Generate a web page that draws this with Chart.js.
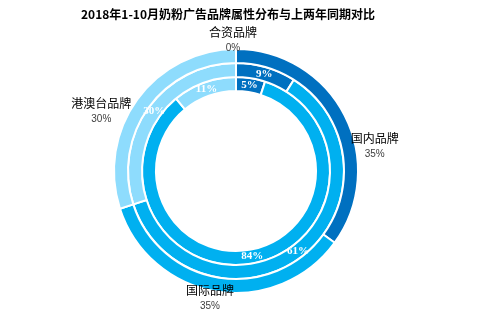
<!DOCTYPE html>
<html>
<head>
<meta charset="utf-8">
<script src="https://cdn.jsdelivr.net/npm/chart.js@4"></script>
<style>
  html, body { margin: 0; padding: 0; background: #fff; }
  #wrap { width: 501px; height: 323px; }
</style>
</head>
<body>
<div id="wrap"><canvas id="brandChart" width="501" height="323"></canvas></div>
<script>
const titleText = "2018年1-10月奶粉广告品牌属性分布与上两年同期对比";
const categories = ["国内品牌", "国际品牌", "港澳台品牌", "合资品牌"];
const colors = ["#0070C0", "#00B0F0", "#8EDCFD", "#BFBFBF"];
// outer ring = 2018, then the two earlier years going inward
const ring2018 = [35, 35, 30, 0];
const ringMid = [9, 61, 30, 0];
const ringInner = [5, 84, 11, 0];
// nudges for the outside category labels (dx, dy from the arc's outer mid point)
const labelNudge = [[30, 31], [-7, 7], [-36, 12], [-3, -9]];

const labelPlugin = {
  id: "ringLabels",
  afterDatasetsDraw(chart) {
    const ctx = chart.ctx;
    ctx.save();
    ctx.textAlign = "center";
    ctx.textBaseline = "middle";

    // title
    ctx.fillStyle = "#000";
    ctx.font = "bold 12px 'Noto Sans CJK SC'";
    ctx.fillText(titleText, 228, 14);

    chart.data.datasets.forEach((ds, di) => {
      const meta = chart.getDatasetMeta(di);
      meta.data.forEach((arc, i) => {
        const p = arc.getProps(["x", "y", "startAngle", "endAngle", "innerRadius", "outerRadius"], true);
        const mid = (p.startAngle + p.endAngle) / 2;
        if (di === 0) {
          const x = p.x + Math.cos(mid) * p.outerRadius + labelNudge[i][0];
          const y = p.y + Math.sin(mid) * p.outerRadius + labelNudge[i][1];
          ctx.fillStyle = "#000";
          ctx.font = "12px 'Noto Sans CJK SC'";
          ctx.fillText(categories[i], x, y - 8);
          ctx.fillStyle = "#404040";
          ctx.font = "10px 'Liberation Sans'";
          ctx.fillText(ds.data[i] + "%", x, y + 8);
        } else if (ds.data[i] > 0) {
          const r = (p.innerRadius + p.outerRadius) / 2;
          ctx.fillStyle = "#fff";
          ctx.font = "bold 11px 'Liberation Serif'";
          ctx.fillText(ds.data[i] + "%", p.x + Math.cos(mid) * r, p.y + Math.sin(mid) * r);
        }
      });
    });
    ctx.restore();
  }
};

const ringStyle = {
  backgroundColor: colors,
  borderColor: "#fff",
  borderWidth: 2,
  hoverOffset: 0,
  offset: 0
};

new Chart(document.getElementById("brandChart"), {
  type: "doughnut",
  data: {
    labels: categories,
    datasets: [
      { data: ring2018, ...ringStyle },
      { data: ringMid, ...ringStyle },
      { data: ringInner, ...ringStyle }
    ]
  },
  options: {
    responsive: false,
    animation: false,
    cutout: "65.6%",
    layout: { padding: { top: 48, bottom: 29, left: 0, right: 29 } },
    plugins: {
      legend: { display: false },
      tooltip: { enabled: false },
      title: { display: false }
    }
  },
  plugins: [labelPlugin]
});
</script>
</body>
</html>
